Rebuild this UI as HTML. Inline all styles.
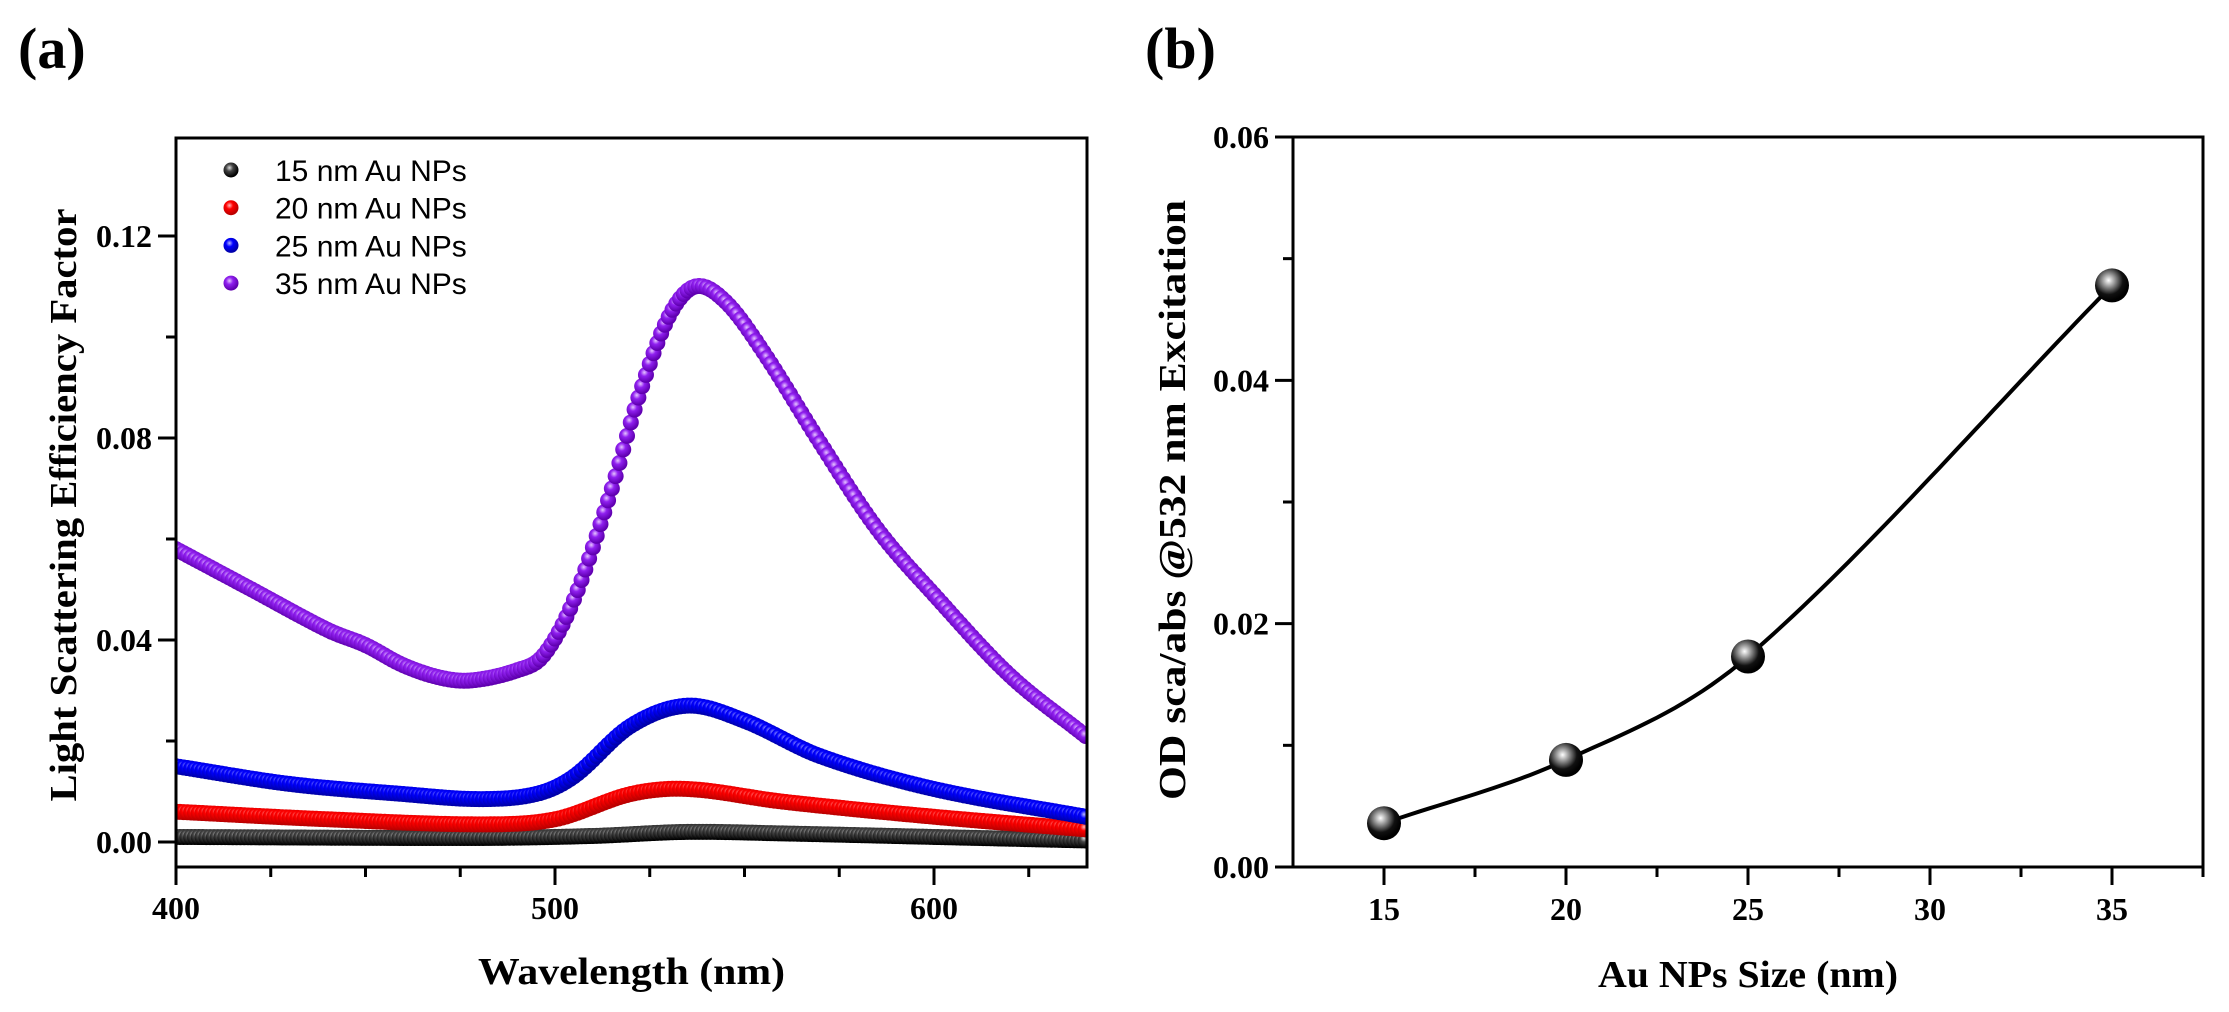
<!DOCTYPE html>
<html><head><meta charset="utf-8"><style>
body{margin:0;background:#fff;}
svg{display:block;}
.t{font-family:"Liberation Serif",serif;font-weight:bold;}
.l{font-family:"Liberation Sans",sans-serif;}
</style></head><body>
<svg id="s" width="2229" height="1012" xmlns="http://www.w3.org/2000/svg">
<defs>
<radialGradient id="gk" cx="0.4" cy="0.35" r="0.6"><stop offset="0" stop-color="#ddd"/><stop offset="0.4" stop-color="#444"/><stop offset="1" stop-color="#000"/></radialGradient>
<radialGradient id="gr" cx="0.4" cy="0.35" r="0.6"><stop offset="0" stop-color="#fbb"/><stop offset="0.4" stop-color="#f00"/><stop offset="1" stop-color="#b00"/></radialGradient>
<radialGradient id="gb" cx="0.4" cy="0.35" r="0.6"><stop offset="0" stop-color="#bbf"/><stop offset="0.4" stop-color="#00f"/><stop offset="1" stop-color="#00a"/></radialGradient>
<radialGradient id="gp" cx="0.4" cy="0.35" r="0.6"><stop offset="0" stop-color="#e6c6ff"/><stop offset="0.4" stop-color="#9020f0"/><stop offset="1" stop-color="#6000b0"/></radialGradient>
<radialGradient id="gb2" cx="0.4" cy="0.35" r="0.6"><stop offset="0" stop-color="#fff"/><stop offset="0.35" stop-color="#888"/><stop offset="0.7" stop-color="#111"/><stop offset="1" stop-color="#000"/></radialGradient>
</defs>
<text class="t" x="18" y="68" font-size="58">(a)</text>
<text class="t" x="1145" y="68" font-size="58">(b)</text>
<g id="A"></g><g id="B"></g>
</svg>
<script>
const NS="http://www.w3.org/2000/svg";
function el(p,t,a,txt){const e=document.createElementNS(NS,t);for(const k in a)e.setAttribute(k,a[k]);if(txt!==undefined)e.textContent=txt;p.appendChild(e);return e;}
const A=document.getElementById('A');
const L=176,R=1087,T=138,Bt=867;
const X=v=>L+(v-400)*3.79, Y=v=>842-v*5050;
function cr(pts,x){
 let i=0;while(i<pts.length-2&&x>pts[i+1][0])i++;
 const p0=pts[Math.max(i-1,0)],p1=pts[i],p2=pts[i+1],p3=pts[Math.min(i+2,pts.length-1)];
 const t=(x-p1[0])/(p2[0]-p1[0]);
 const m1=(p2[1]-p0[1])/(p2[0]-p0[0])*(p2[0]-p1[0]);
 const m2=(p3[1]-p1[1])/(p3[0]-p1[0])*(p2[0]-p1[0]);
 const t2=t*t,t3=t2*t;
 return (2*t3-3*t2+1)*p1[1]+(t3-2*t2+t)*m1+(-2*t3+3*t2)*p2[1]+(t3-t2)*m2;
}
const series=[
 ['gk',[[400,.001],[480,.0008],[510,.0012],[535,.002],[560,.0017],[600,.001],[640,.0003]]],
 ['gr',[[400,.006],[440,.0045],[480,.0035],[500,.0045],[520,.0095],[535,.0105],[560,.008],[600,.005],[640,.0025]]],
 ['gb',[[400,.015],[430,.0115],[460,.0095],[480,.0085],[495,.0095],[505,.013],[520,.023],[535,.027],[550,.024],[570,.017],[600,.0105],[640,.005]]],
 ['gp',[[400,.058],[420,.050],[440,.042],[450,.039],[460,.035],[470,.0325],[478,.032],[490,.034],[497,.037],[505,.048],[515,.07],[522,.088],[530,.104],[537,.110],[545,.107],[555,.097],[570,.079],[585,.062],[600,.049],[620,.033],[640,.021]]]
];
const clip=el(A,'clipPath',{id:'ca'});el(clip,'rect',{x:L,y:T,width:R-L,height:Bt-T});
const cg=el(A,'g',{'clip-path':'url(#ca)'});
for(const [g,pts] of series){for(let w=400;w<=640;w+=1){el(cg,'circle',{cx:X(w),cy:Y(cr(pts,w)),r:8,fill:'url(#'+g+')'});}}
el(A,'rect',{x:L,y:T,width:R-L,height:Bt-T,fill:'none',stroke:'#000','stroke-width':3});
for(let v=400;v<=640;v+=25){const x=X(v);el(A,'line',{x1:x,y1:Bt,x2:x,y2:Bt+(v%100==0?18:10),stroke:'#000','stroke-width':3});
 if(v%100==0)el(A,'text',{class:'t',x:x,y:919,'font-size':32,'text-anchor':'middle'},v);}
for(let i=0;i<=7;i++){const v=i*0.02,y=Y(v);if(y<T)break;el(A,'line',{x1:L,y1:y,x2:L-(i%2==0?18:10),y2:y,stroke:'#000','stroke-width':3});
 if(i%2==0)el(A,'text',{class:'t',x:L-24,y:y+11,'font-size':32,'text-anchor':'end'},v.toFixed(2));}
el(A,'text',{class:'t',x:(L+R)/2,y:984,'font-size':38,'text-anchor':'middle',textLength:307,lengthAdjust:'spacingAndGlyphs'},'Wavelength (nm)');
el(A,'text',{class:'t',x:0,y:0,'font-size':38,'text-anchor':'middle',textLength:593,lengthAdjust:'spacingAndGlyphs',transform:'translate(76,505) rotate(-90)'},'Light Scattering Efficiency Factor');
const lg=['15','20','25','35'],gs=['gk','gr','gb','gp'];
for(let i=0;i<4;i++){const y=170+i*37.7;el(A,'circle',{cx:231,cy:y,r:7.5,fill:'url(#'+gs[i]+')'});el(A,'text',{class:'l',x:275,y:y+11,'font-size':30},lg[i]+' nm Au NPs');}
const B=document.getElementById('B');
const L2=1293,R2=2203,T2=137,B2=867;
const X2=v=>1384+(v-15)*36.4,Y2=v=>867-v*12167;
el(B,'rect',{x:L2,y:T2,width:R2-L2,height:B2-T2,fill:'none',stroke:'#000','stroke-width':3});
for(let v=12.5;v<=37.5;v+=2.5){const x=X2(v);if(x<L2+2||x>R2)continue;el(B,'line',{x1:x,y1:B2,x2:x,y2:B2+(v%5==0?18:10),stroke:'#000','stroke-width':3});
 if(v%5==0)el(B,'text',{class:'t',x:x,y:920,'font-size':32,'text-anchor':'middle'},v);}
for(let i=0;i<=6;i++){const v=i*0.01,y=Y2(v);el(B,'line',{x1:L2,y1:y,x2:L2-(i%2==0?18:10),y2:y,stroke:'#000','stroke-width':3});
 if(i%2==0)el(B,'text',{class:'t',x:L2-24,y:y+11,'font-size':32,'text-anchor':'end'},v.toFixed(2));}
el(B,'text',{class:'t',x:(L2+R2)/2,y:987,'font-size':38,'text-anchor':'middle',textLength:300,lengthAdjust:'spacingAndGlyphs'},'Au NPs Size (nm)');
el(B,'text',{class:'t',x:0,y:0,'font-size':38,'text-anchor':'middle',textLength:600,lengthAdjust:'spacingAndGlyphs',transform:'translate(1185,500) rotate(-90)'},'OD sca/abs @532 nm Excitation');
const dp=[[15,.0036],[20,.0088],[25,.0173],[35,.0478]];
let d='';for(let s=15;s<=35;s+=0.25){const y=cr(dp,s);d+=(s==15?'M':'L')+X2(s).toFixed(1)+' '+Y2(y).toFixed(1);}
el(B,'path',{d:d,fill:'none',stroke:'#000','stroke-width':4});
for(const [s,v] of dp){el(B,'circle',{cx:X2(s),cy:Y2(v),r:17,fill:'url(#gb2)'});}
</script>
</body></html>
